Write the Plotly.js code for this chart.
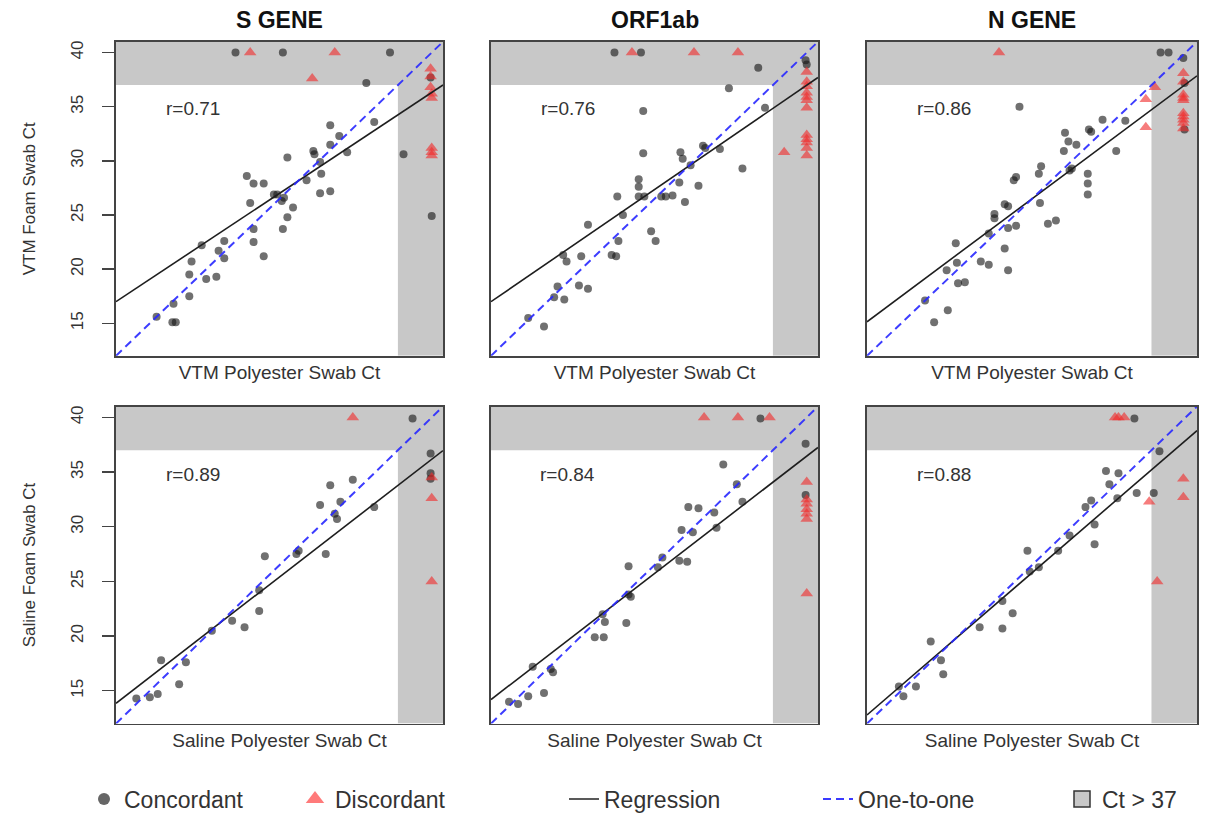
<!DOCTYPE html>
<html>
<head>
<meta charset="utf-8">
<script src="https://cdn.plot.ly/plotly-3.0.1.min.js"></script>
<style>html,body{margin:0;padding:0;background:#fff;}#chart{width:1218px;height:821px;}</style>
</head>
<body>
<div id="chart"></div>
<script>
// ---------- data ----------
const axisRange = [12, 41];
const ctCutoff = 37;
const yTicks = [15, 20, 25, 30, 35, 40];
const geneTitles = ['S GENE', 'ORF1ab', 'N GENE'];
const rowXTitles = ['VTM Polyester Swab Ct', 'Saline Polyester Swab Ct'];
const rowYTitles = ['VTM Foam Swab Ct', 'Saline Foam Swab Ct'];
const rValues = ['0.71', '0.76', '0.86', '0.89', '0.84', '0.88'];
const regIntercept = [8.72, 8.43, 5.75, 4.29, 4.66, 2.02];
const regSlope = [0.690, 0.714, 0.783, 0.797, 0.795, 0.897];

// S gene, VTM
const sVtmConcX = [22.6,26.8,36.3,39.9,34.2,31.0,34.9,31.8,31.0,32.5,37.5,27.2,29.5,29.6,30.1,30.2,30.1,31.0,28.9,23.6,24.2,25.1,26.0,26.3,26.9,26.7,27.7,23.9,27.2,26.8,24.2,24.2,25.1,21.6,21.1,21.6,19.6,18.7,18.5,20.0,20.9,18.5,17.1,15.6,17.0,17.3,40.0];
const sVtmConcY = [40,40,40,37.7,37.2,33.3,33.6,32.3,31.5,30.8,30.6,30.3,30.9,30.6,29.9,28.8,27.0,27.2,28.2,28.6,27.9,27.9,26.9,26.9,26.6,26.3,25.7,26.1,24.8,23.7,23.7,22.5,21.2,22.6,21.7,21.0,22.2,20.7,19.5,19.1,19.3,17.5,16.8,15.6,15.1,15.1,24.9];
const sVtmDiscX = [23.9,31.4,29.4,39.9,39.9,39.9,40.0,40.0,40.0,40.0,40.0];
const sVtmDiscY = [40,40,37.6,38.5,37.8,36.8,36.2,35.8,31.2,30.8,30.5];

// ORF1ab, VTM
const orfVtmConcX = [22.95,25.3,35.7,39.9,40.0,33.1,36.3,25.5,25.5,28.8,29.0,30.8,31.0,32.3,29.7,34.3,28.7,30.4,25.1,25.1,23.2,25.1,25.6,27.1,27.5,28.1,29.2,23.7,20.6,26.2,26.6,23.3,22.7,23.1,18.4,18.7,20.0,17.9,19.8,20.6,17.6,18.5,15.3,16.7];
const orfVtmConcY = [40,40,38.6,39.3,38.9,36.7,34.9,34.6,30.7,30.8,30.2,31.4,31.2,31.1,29.6,29.3,28.0,27.7,28.3,27.6,26.7,26.7,26.7,26.7,26.7,26.8,26.2,25.0,24.1,23.5,22.6,22.6,21.3,21.2,21.3,20.7,21.2,18.4,18.5,18.2,17.4,17.2,15.5,14.7];
const orfVtmDiscX = [24.5,30.0,33.9,38.0,40,40,40,40,40,40,40,40,40,40,40,40];
const orfVtmDiscY = [40,40,40,30.8,38.2,37.3,36.9,36.3,35.9,35.6,34.9,32.4,32.0,31.7,31.2,30.5];

// N gene, VTM
const nVtmConcX = [37.8,38.5,39.8,39.9,39.9,25.4,32.7,34.7,31.5,31.7,29.4,29.7,30.4,29.3,33.9,27.3,27.1,29.8,30.0,31.4,31.4,31.4,24.9,25.1,27.2,24.1,24.4,23.2,23.2,27.9,28.6,24.4,25.1,22.7,24.1,19.8,22.0,22.7,24.4,19.0,19.9,20.0,20.6,17.1,19.1,17.9];
const nVtmConcY = [40,40,39.5,37.2,32.9,35.0,33.8,33.7,32.9,32.7,32.6,31.8,31.5,30.9,30.9,29.5,28.8,29.1,29.3,28.8,27.9,26.9,28.2,28.5,26.1,26.0,25.8,25.1,24.7,24.2,24.5,23.8,24.0,23.3,21.9,22.4,20.7,20.4,19.9,19.9,20.6,18.7,18.8,17.1,16.2,15.1];
const nVtmDiscX = [23.6,37.3,36.5,36.5,39.8,39.8,39.8,39.8,39.8,39.8,39.8,39.8,39.8,39.8];
const nVtmDiscY = [40,36.8,35.7,33.1,38.1,37.3,36.1,35.8,35.6,34.4,34.1,33.8,33.5,33.0];

// S gene, saline
const sSalConcX = [38.3,39.9,39.9,39.9,33.0,31.0,31.9,30.1,34.9,31.4,31.6,28.2,28.0,30.6,25.2,24.7,24.7,20.5,22.3,23.4,16.0,18.2,17.6,13.8,15.0,15.7];
const sSalConcY = [39.9,36.7,34.9,34.4,34.3,33.8,32.3,32.0,31.8,31.2,30.7,27.8,27.5,27.5,27.3,24.2,22.3,20.5,21.4,20.8,17.8,17.6,15.6,14.3,14.4,14.7];
const sSalDiscX = [33.0,40,40,40];
const sSalDiscY = [40,34.5,32.6,25.0];

// ORF1ab, saline
const orfSalConcX = [35.9,39.9,39.9,32.6,33.8,34.3,29.5,30.4,31.8,28.9,29.9,32.0,27.2,26.8,28.7,29.4,24.2,24.2,24.4,24.0,22.1,21.9,21.2,22.0,15.7,17.3,17.5,16.7,15.3,13.6,14.4];
const orfSalConcY = [39.9,37.6,32.9,35.7,33.9,32.3,31.8,31.7,31.3,29.7,29.5,29.9,27.2,26.3,26.9,26.8,26.4,23.8,23.6,21.2,21.3,22.0,19.9,19.9,17.2,17.0,16.7,14.8,14.5,14.0,13.8];
const orfSalDiscX = [30.9,33.9,36.7,40,40,40,40,40,40,40];
const orfSalDiscY = [40,40,40,34.1,32.5,32.1,31.6,31.2,30.7,23.9];

// N gene, saline
const nSalConcX = [35.5,37.7,33.0,34.1,33.3,35.7,37.2,34.0,31.7,31.2,32.0,32.0,29.8,28.8,26.1,27.1,26.3,23.9,24.8,21.9,23.9,17.6,18.5,18.7,14.8,16.3,15.2];
const nSalConcY = [39.9,36.9,35.1,34.9,33.9,33.1,33.1,32.6,32.4,31.8,30.2,28.4,29.2,27.8,27.8,26.3,25.9,23.2,22.1,20.8,20.7,19.5,17.8,16.5,15.4,15.4,14.5];
const nSalDiscX = [33.8,34.1,34.6,39.8,39.8,36.8,37.5];
const nSalDiscY = [40,40,40,34.4,32.7,32.3,25.0];

const legendNames = ['Concordant', 'Discordant', 'Regression', 'One-to-one', 'Ct > 37'];

// ---------- build ----------
const panels = [
  [sVtmConcX, sVtmConcY, sVtmDiscX, sVtmDiscY],
  [orfVtmConcX, orfVtmConcY, orfVtmDiscX, orfVtmDiscY],
  [nVtmConcX, nVtmConcY, nVtmDiscX, nVtmDiscY],
  [sSalConcX, sSalConcY, sSalDiscX, sSalDiscY],
  [orfSalConcX, orfSalConcY, orfSalDiscX, orfSalDiscY],
  [nSalConcX, nSalConcY, nSalDiscX, nSalDiscY]
];

const W = 1218, H = 821;
const colPx = [[116, 443], [491, 818], [867, 1197]];
const rowPx = [[42, 358], [409, 728]];
const FONT = 'Liberation Sans, Arial, Helvetica, sans-serif';

const concColor = 'rgba(25,25,25,0.62)';
const discColor = 'rgba(240,45,45,0.62)';
const grayFill = '#c8c8c8';

const traces = [];
const layout = {
  width: W, height: H,
  margin: {l: 0, r: 0, t: 0, b: 0},
  paper_bgcolor: '#fff', plot_bgcolor: '#fff',
  font: {family: FONT, color: '#333'},
  shapes: [], annotations: []
};

panels.forEach((p, i) => {
  const row = Math.floor(i / 3), col = i % 3;
  const s = i === 0 ? '' : String(i + 1);
  const xa = 'x' + s, ya = 'y' + s;
  layout['xaxis' + s] = {
    domain: [colPx[col][0] / W, colPx[col][1] / W],
    range: axisRange, anchor: ya,
    showgrid: false, zeroline: false,
    showline: true, mirror: true, linecolor: '#444', linewidth: 1.8,
    ticks: '', showticklabels: false,
    title: {text: rowXTitles[row], font: {size: 19, color: '#333'}, standoff: 9},
    fixedrange: true
  };
  layout['yaxis' + s] = {
    domain: [1 - rowPx[row][1] / H, 1 - rowPx[row][0] / H],
    range: axisRange, anchor: xa,
    showgrid: false, zeroline: false,
    showline: true, mirror: true, linecolor: '#444', linewidth: 1.8,
    tickvals: yTicks, ticktext: yTicks.map(String),
    ticks: col === 0 ? 'outside' : '', ticklen: 12, tickwidth: 1.4, tickcolor: '#444',
    showticklabels: col === 0, tickangle: -90,
    tickfont: {size: 17, color: '#333'}, ticklabelstandoff: 12,
    title: col === 0 ? {text: rowYTitles[row], font: {size: 17, color: '#333'}, standoff: 28} : {text: ''},
    fixedrange: true
  };
  // gray censoring regions (Ct > cutoff)
  layout.shapes.push({type: 'rect', xref: xa, yref: ya, x0: axisRange[0], x1: axisRange[1], y0: ctCutoff, y1: axisRange[1],
    fillcolor: grayFill, line: {width: 0}, layer: 'below'});
  layout.shapes.push({type: 'rect', xref: xa, yref: ya, x0: ctCutoff, x1: axisRange[1], y0: axisRange[0], y1: axisRange[1],
    fillcolor: grayFill, line: {width: 0}, layer: 'below'});

  traces.push({type: 'scatter', mode: 'markers', x: p[0], y: p[1], xaxis: xa, yaxis: ya, showlegend: false,
    marker: {symbol: 'circle', size: 8, color: concColor, line: {width: 0}}, hoverinfo: 'skip'});
  traces.push({type: 'scatter', mode: 'markers', x: p[2], y: p[3], xaxis: xa, yaxis: ya, showlegend: false,
    marker: {symbol: 'triangle-up', size: 11, color: discColor, line: {width: 0}}, hoverinfo: 'skip'});
  traces.push({type: 'scatter', mode: 'lines', x: axisRange, y: axisRange.map(v => regIntercept[i] + regSlope[i] * v),
    xaxis: xa, yaxis: ya, showlegend: false, line: {color: '#1e1e1e', width: 1.6}, hoverinfo: 'skip'});
  traces.push({type: 'scatter', mode: 'lines', x: axisRange, y: axisRange,
    xaxis: xa, yaxis: ya, showlegend: false, line: {color: 'rgba(40,40,255,0.9)', width: 2, dash: '8px,5px'}, hoverinfo: 'skip'});

  layout.annotations.push({xref: xa, yref: ya, x: 18.8, y: 34.8, text: 'r=' + rValues[i], showarrow: false,
    font: {size: 19, color: '#333'}, xanchor: 'center', yanchor: 'middle'});
  if (row === 0) {
    layout.annotations.push({xref: 'paper', yref: 'paper', x: (colPx[col][0] + colPx[col][1]) / 2 / W, y: 1 - 20 / H,
      text: '<b>' + geneTitles[col] + '</b>', showarrow: false, font: {size: 23, color: '#111'}, xanchor: 'center', yanchor: 'middle'});
  }
});

// legends (one per entry so each can sit where the reference puts it)
const legendLeftPx = [84, 295, 564, 818, 1062];
const legendSpecs = [
  {mode: 'markers', marker: {symbol: 'circle', size: 12, color: '#666'}},
  {mode: 'markers', marker: {symbol: 'triangle-up', size: 16, color: '#ff7a7a'}},
  {mode: 'lines', line: {color: '#222', width: 1.6}},
  {mode: 'lines', line: {color: '#3a3aff', width: 2, dash: '8px,5px'}},
  {mode: 'markers', marker: {symbol: 'square', size: 16, color: grayFill, line: {color: '#333', width: 1.5}}}
];
legendSpecs.forEach((spec, k) => {
  const lname = k === 0 ? 'legend' : 'legend' + (k + 1);
  traces.push(Object.assign({type: 'scatter', x: [null], y: [null], xaxis: 'x', yaxis: 'y',
    name: legendNames[k], showlegend: true, legend: lname, hoverinfo: 'skip'}, spec));
  layout[lname] = {x: legendLeftPx[k] / W, y: 1 - 804 / H, xanchor: 'left', yanchor: 'middle',
    orientation: 'h', bgcolor: 'rgba(0,0,0,0)', borderwidth: 0,
    font: {size: 23, color: '#333', family: FONT}};
});

Plotly.newPlot('chart', traces, layout, {displayModeBar: false, staticPlot: true});
</script>
</body>
</html>
